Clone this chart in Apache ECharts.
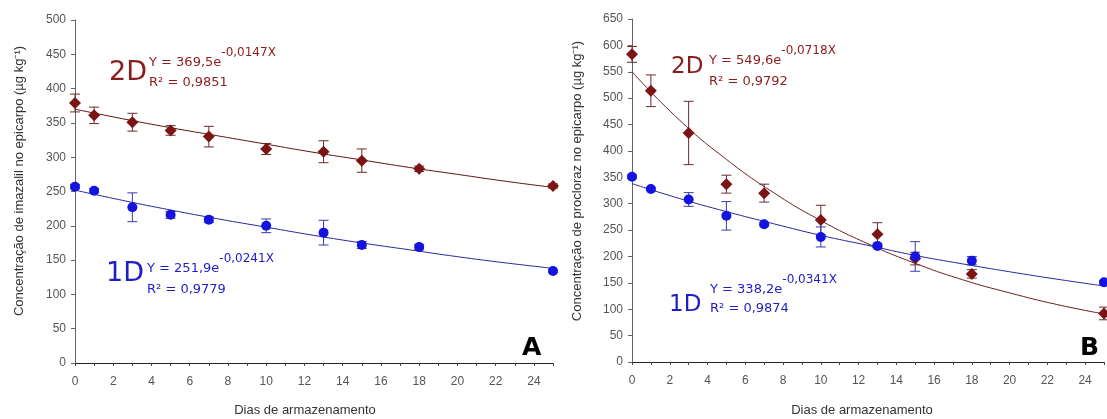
<!DOCTYPE html>
<html>
<head>
<meta charset="utf-8">
<script src="https://cdn.jsdelivr.net/npm/echarts@6/dist/echarts.min.js"></script>
<style>
  html, body { margin: 0; padding: 0; background: #fff; }
  #main { width: 1107px; height: 419px; }
</style>
</head>
<body>
<div id="main"></div>
<script>
// dias de armazenamento
var dias = [0, 1, 3, 5, 7, 10, 13, 15, 18, 25];

// A - imazalil
var imaz2D = [379, 361, 351, 339, 330, 312, 308, 295, 283, 258];
var imaz2DErr = [13, 12, 13, 7, 15, 8, 16, 17, 4, 3];
var imaz1D = [257, 251, 227, 216, 209, 200, 190, 172, 169, 134];
var imaz1DErr = [3, 3, 21, 5, 4, 10, 18, 5, 4, 2];

// B - procloraz
var proc2D = [583, 514, 434, 337, 320, 269, 242, 196, 167, 92];
var proc2DErr = [15, 30, 60, 17, 17, 28, 22, 12, 8, 12];
var proc1D = [351, 328, 308, 277, 261, 237, 220, 200, 192, 151];
var proc1DErr = [3, 3, 13, 27, 3, 19, 3, 28, 8, 3];

// linhas de tendência
var trendX = [0, 2.5, 5, 7.5, 10, 12.5, 15, 17.5, 20, 22.5, 25];
var trendImaz2D = [370, 356, 343, 331, 319, 307, 296, 285, 275, 265, 256];
var trendImaz1D = [252, 237, 223, 210, 198, 186, 175, 165, 155, 146, 138];
var trendProc2D = [550, 459, 384, 321, 268, 224, 187, 156, 131, 109, 91];
var trendProc1D = [338, 310, 285, 262, 240, 221, 202, 186, 171, 157, 144];

var red = '#7c1414';
var blue = '#1414e0';
var redTxt = '#8a1c1c';
var blueTxt = '#1e1ec4';

function pts(xs, ys) {
    var out = [];
    for (var i = 0; i < xs.length; i++) out.push([xs[i], ys[i]]);
    return out;
}
function errs(xs, ys, es) {
    var out = [];
    for (var i = 0; i < xs.length; i++) out.push([xs[i], ys[i] - es[i], ys[i] + es[i]]);
    return out;
}
function errSeries(idx, data, color) {
    return {
        type: 'custom', xAxisIndex: idx, yAxisIndex: idx, data: data, z: 3,
        renderItem: function (params, api) {
            var lo = api.coord([api.value(0), api.value(1)]);
            var hi = api.coord([api.value(0), api.value(2)]);
            var w = 5;
            var st = { stroke: color, lineWidth: 1 };
            return {
                type: 'group',
                children: [
                    { type: 'line', shape: { x1: lo[0], y1: lo[1], x2: hi[0], y2: hi[1] }, style: st },
                    { type: 'line', shape: { x1: lo[0] - w, y1: lo[1], x2: lo[0] + w, y2: lo[1] }, style: st },
                    { type: 'line', shape: { x1: hi[0] - w, y1: hi[1], x2: hi[0] + w, y2: hi[1] }, style: st }
                ]
            };
        }
    };
}
function trend(idx, ys, color) {
    return {
        type: 'line', xAxisIndex: idx, yAxisIndex: idx, data: pts(trendX, ys),
        smooth: true, symbol: 'none', lineStyle: { color: color, width: 1 }, z: 2
    };
}
function dots(idx, ys, symbol, size, color) {
    return {
        type: 'scatter', xAxisIndex: idx, yAxisIndex: idx, data: pts(dias, ys),
        symbol: symbol, symbolSize: size, itemStyle: { color: color, opacity: 1 }, z: 4
    };
}
function xAx(idx) {
    return {
        type: 'value', gridIndex: idx, min: 0, max: 25, interval: 1,
        axisLine: { lineStyle: { color: '#222', width: 1 } },
        axisTick: { length: 3, lineStyle: { color: '#444' } },
        axisLabel: {
            color: '#555', fontSize: 12, fontFamily: 'Liberation Sans', margin: 13,
            formatter: function (v) { return v % 2 === 0 && v <= 24 ? v : ''; }
        },
        splitLine: { show: false }
    };
}
function yAx(idx, max) {
    return {
        type: 'value', gridIndex: idx, min: 0, max: max, interval: 50,
        axisLine: { show: true, lineStyle: { color: '#666', width: 1 } },
        axisTick: { show: true, length: 4, lineStyle: { color: '#666' } },
        axisLabel: { color: '#555', fontSize: 12, fontFamily: 'Liberation Sans', margin: 9 },
        splitLine: { show: false }
    };
}
function txt(x, y, s, size, color, weight) {
    return {
        type: 'text', left: x, top: y,
        style: { text: s, fontSize: size, fill: color, fontFamily: 'DejaVu Sans', fontWeight: weight || 'normal' }
    };
}
function eq(x, y, base, expo, color) {
    return {
        type: 'text', x: x, y: y,
        style: {
            text: '{a|' + base + '}{b|' + expo + '}',
            fill: color,
            rich: {
                a: { fontSize: 13, fontFamily: 'DejaVu Sans', fill: color, lineHeight: 22, verticalAlign: 'bottom' },
                b: { fontSize: 12, fontFamily: 'DejaVu Sans', fill: color, lineHeight: 22, verticalAlign: 'top' }
            }
        }
    };
}
function vtitle(x, y, s) {
    return {
        type: 'text', x: x, y: y, rotation: Math.PI / 2,
        style: { text: s, fontSize: 13, fill: '#333', fontFamily: 'Liberation Sans', align: 'center', verticalAlign: 'middle' }
    };
}
function htitle(x, y, s) {
    return {
        type: 'text', x: x, y: y,
        style: { text: s, fontSize: 13, fill: '#333', fontFamily: 'Liberation Sans', align: 'center', verticalAlign: 'middle' }
    };
}

var chart = echarts.init(document.getElementById('main'));
var option = {
    animation: false,
    grid: [
        { left: 75, right: 554, top: 20, bottom: 56 },
        { left: 632, right: 0, top: 19, bottom: 57 }
    ],
    xAxis: [xAx(0), xAx(1)],
    yAxis: [yAx(0, 500), yAx(1, 650)],
    series: [
        trend(0, trendImaz2D, '#5a1515'),
        trend(0, trendImaz1D, '#28289a'),
        errSeries(0, errs(dias, imaz2D, imaz2DErr), '#6a2a2a'),
        errSeries(0, errs(dias, imaz1D, imaz1DErr), '#3a3ab0'),
        dots(0, imaz2D, 'diamond', 12, red),
        dots(0, imaz1D, 'circle', 10, blue),
        trend(1, trendProc2D, '#6a2020'),
        trend(1, trendProc1D, '#28289a'),
        errSeries(1, errs(dias, proc2D, proc2DErr), '#6a2a2a'),
        errSeries(1, errs(dias, proc1D, proc1DErr), '#3a3ab0'),
        dots(1, proc2D, 'diamond', 12, red),
        dots(1, proc1D, 'circle', 10, blue)
    ],
    graphic: [
        vtitle(19, 181, 'Concentração de imazalil no epicarpo (µg kg⁻¹)'),
        vtitle(577, 181, 'Concentração de procloraz no epicarpo (µg kg⁻¹)'),
        htitle(305, 410, 'Dias de armazenamento'),
        htitle(862, 410, 'Dias de armazenamento'),

        txt(109, 59, '2D', 27, redTxt),
        eq(149, 47, 'Y = 369,5e', '-0,0147X', redTxt),
        txt(149, 76, 'R² = 0,9851', 13, redTxt),
        txt(106, 260, '1D', 27, blueTxt),
        eq(147, 253, 'Y = 251,9e', '-0,0241X', blueTxt),
        txt(147, 283, 'R² = 0,9779', 13, blueTxt),
        txt(522, 336, 'A', 25, '#000', 'bold'),

        txt(671, 56, '2D', 23, redTxt),
        eq(709, 45, 'Y = 549,6e', '-0,0718X', redTxt),
        txt(709, 75, 'R² = 0,9792', 13, redTxt),
        txt(669, 294, '1D', 23, blueTxt),
        eq(710, 274, 'Y = 338,2e', '-0,0341X', blueTxt),
        txt(710, 302, 'R² = 0,9874', 13, blueTxt),
        txt(1080, 336, 'B', 25, '#000', 'bold')
    ]
};
chart.setOption(option);
</script>
</body>
</html>
